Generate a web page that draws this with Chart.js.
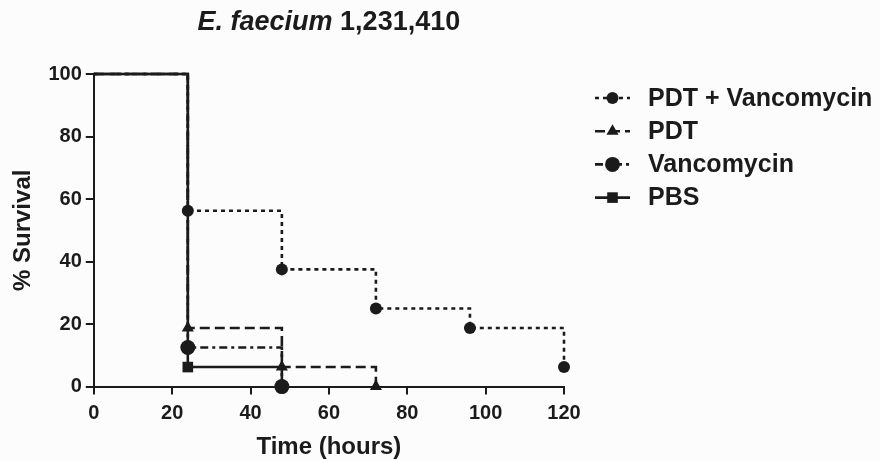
<!DOCTYPE html>
<html>
<head>
<meta charset="utf-8">
<script src="https://cdn.jsdelivr.net/npm/chart.js@4/dist/chart.umd.min.js"></script>
<style>
  body { margin: 0; background: #fcfcfd; }
  #wrap { width: 880px; height: 461px; }
</style>
</head>
<body>
<div id="wrap"><canvas id="chart"></canvas></div>
<script>
// survival data (n = 16 per group)
const pdtVancoTimes = [0, 24, 48, 72, 96, 120];
const pdtVanco      = [100, 56.25, 37.5, 25, 18.75, 6.25];
const pdtTimes      = [0, 24, 48, 72];
const pdt           = [100, 18.75, 6.25, 0];
const vancoTimes    = [0, 24, 48];
const vanco         = [100, 12.5, 0];
const pbsTimes      = [0, 24, 48];
const pbs           = [100, 6.25, 0];

const xTicks = [0, 20, 40, 60, 80, 100, 120];
const yTicks = [0, 20, 40, 60, 80, 100];

const ink = '#1b1b1b';
const FONT = "'Liberation Sans', Arial, Helvetica, sans-serif";

function pts(xs, ys) {
    let out = [];
    for (let i = 0; i < xs.length; i++) out.push({x: xs[i], y: ys[i]});
    return out;
}

// the start point (t = 0) carries no marker
function markerSize(r) {
    return ctx => (ctx.raw && ctx.raw.x === 0) ? 0 : r;
}

// PBS first so it is drawn on top; the legend lists them the other way round
const series = [
    {label: 'PBS', xs: pbsTimes, ys: pbs, dash: [], style: 'rect', r: 7.5},
    {label: 'Vancomycin', xs: vancoTimes, ys: vanco, dash: [8, 4, 3, 4], style: 'circle', r: 7.5},
    {label: 'PDT', xs: pdtTimes, ys: pdt, dash: [10, 5], style: 'triangle', r: 7},
    {label: 'PDT + Vancomycin', xs: pdtVancoTimes, ys: pdtVanco, dash: [4, 4], style: 'circle', r: 6},
];

const datasets = series.map(s => ({
    label: s.label,
    data: pts(s.xs, s.ys),
    stepped: 'before',
    borderColor: ink,
    backgroundColor: ink,
    borderWidth: 2.6,
    borderDash: s.dash,
    pointStyle: s.style,
    pointRadius: markerSize(s.r),
    pointBorderWidth: 0,
    pointBackgroundColor: ink,
    clip: false,
}));

// title with the species name in italics
const titlePlugin = {
    id: 'mixedTitle',
    afterDraw(chart) {
        const c = chart.ctx;
        const a = chart.chartArea;
        const part1 = 'E. faecium ';
        const part2 = '1,231,410';
        const f1 = 'italic bold 27px ' + FONT;
        const f2 = 'bold 27px ' + FONT;
        c.save();
        c.fillStyle = ink;
        c.textBaseline = 'alphabetic';
        c.font = f1;
        const w1 = c.measureText(part1).width;
        c.font = f2;
        const w2 = c.measureText(part2).width;
        let x = (a.left + a.right) / 2 - (w1 + w2) / 2;
        const y = a.top - 44;
        c.font = f1;
        c.fillText(part1, x, y);
        c.font = f2;
        c.fillText(part2, x + w1, y);
        c.restore();
    }
};

// legend on the right: dashed sample with its marker, then the name
const legendPlugin = {
    id: 'sideLegend',
    afterDraw(chart) {
        const c = chart.ctx;
        const a = chart.chartArea;
        const rows = series.slice().reverse();
        c.save();
        c.font = 'bold 25px ' + FONT;
        c.textBaseline = 'middle';
        c.fillStyle = ink;
        c.strokeStyle = ink;
        rows.forEach((s, i) => {
            const y = a.top + 24 + i * 33.2;
            const x0 = a.right + 31;
            c.lineWidth = 2.6;
            c.setLineDash(s.dash);
            c.beginPath();
            c.moveTo(x0, y);
            c.lineTo(x0 + 35, y);
            c.stroke();
            c.setLineDash([]);
            Chart.helpers.drawPoint(c, {pointStyle: s.style, radius: s.r, borderWidth: 0}, x0 + 17.5, y);
            c.fillText(s.label, a.right + 84, y + 1);
        });
        c.restore();
    }
};

const tickFont = {family: FONT, size: 20, weight: 'bold'};
const titleFont = {family: FONT, size: 24, weight: 'bold', lineHeight: 1.1};

new Chart(document.getElementById('chart'), {
    type: 'line',
    data: {datasets: datasets},
    options: {
        responsive: true,
        maintainAspectRatio: false,
        animation: false,
        layout: {padding: {top: 74, left: 6, right: 316, bottom: 0}},
        scales: {
            x: {
                type: 'linear',
                min: 0,
                max: 120,
                afterBuildTicks: axis => { axis.ticks = xTicks.map(v => ({value: v})); },
                ticks: {font: tickFont, color: ink, padding: 7, maxRotation: 0},
                grid: {drawOnChartArea: false, color: ink, lineWidth: 2, tickLength: 8},
                border: {color: ink, width: 2},
                title: {display: true, text: 'Time (hours)', font: titleFont, color: ink, padding: {top: 2, bottom: 0}},
            },
            y: {
                min: 0,
                max: 100,
                afterBuildTicks: axis => { axis.ticks = yTicks.map(v => ({value: v})); },
                ticks: {font: tickFont, color: ink, padding: 4},
                grid: {drawOnChartArea: false, color: ink, lineWidth: 2, tickLength: 8},
                border: {color: ink, width: 2},
                title: {display: true, text: '% Survival', font: titleFont, color: ink, padding: {top: 4, bottom: 8}},
            }
        },
        plugins: {
            tooltip: {enabled: false},
            legend: {display: false}
        }
    },
    plugins: [titlePlugin, legendPlugin]
});
</script>
</body>
</html>
